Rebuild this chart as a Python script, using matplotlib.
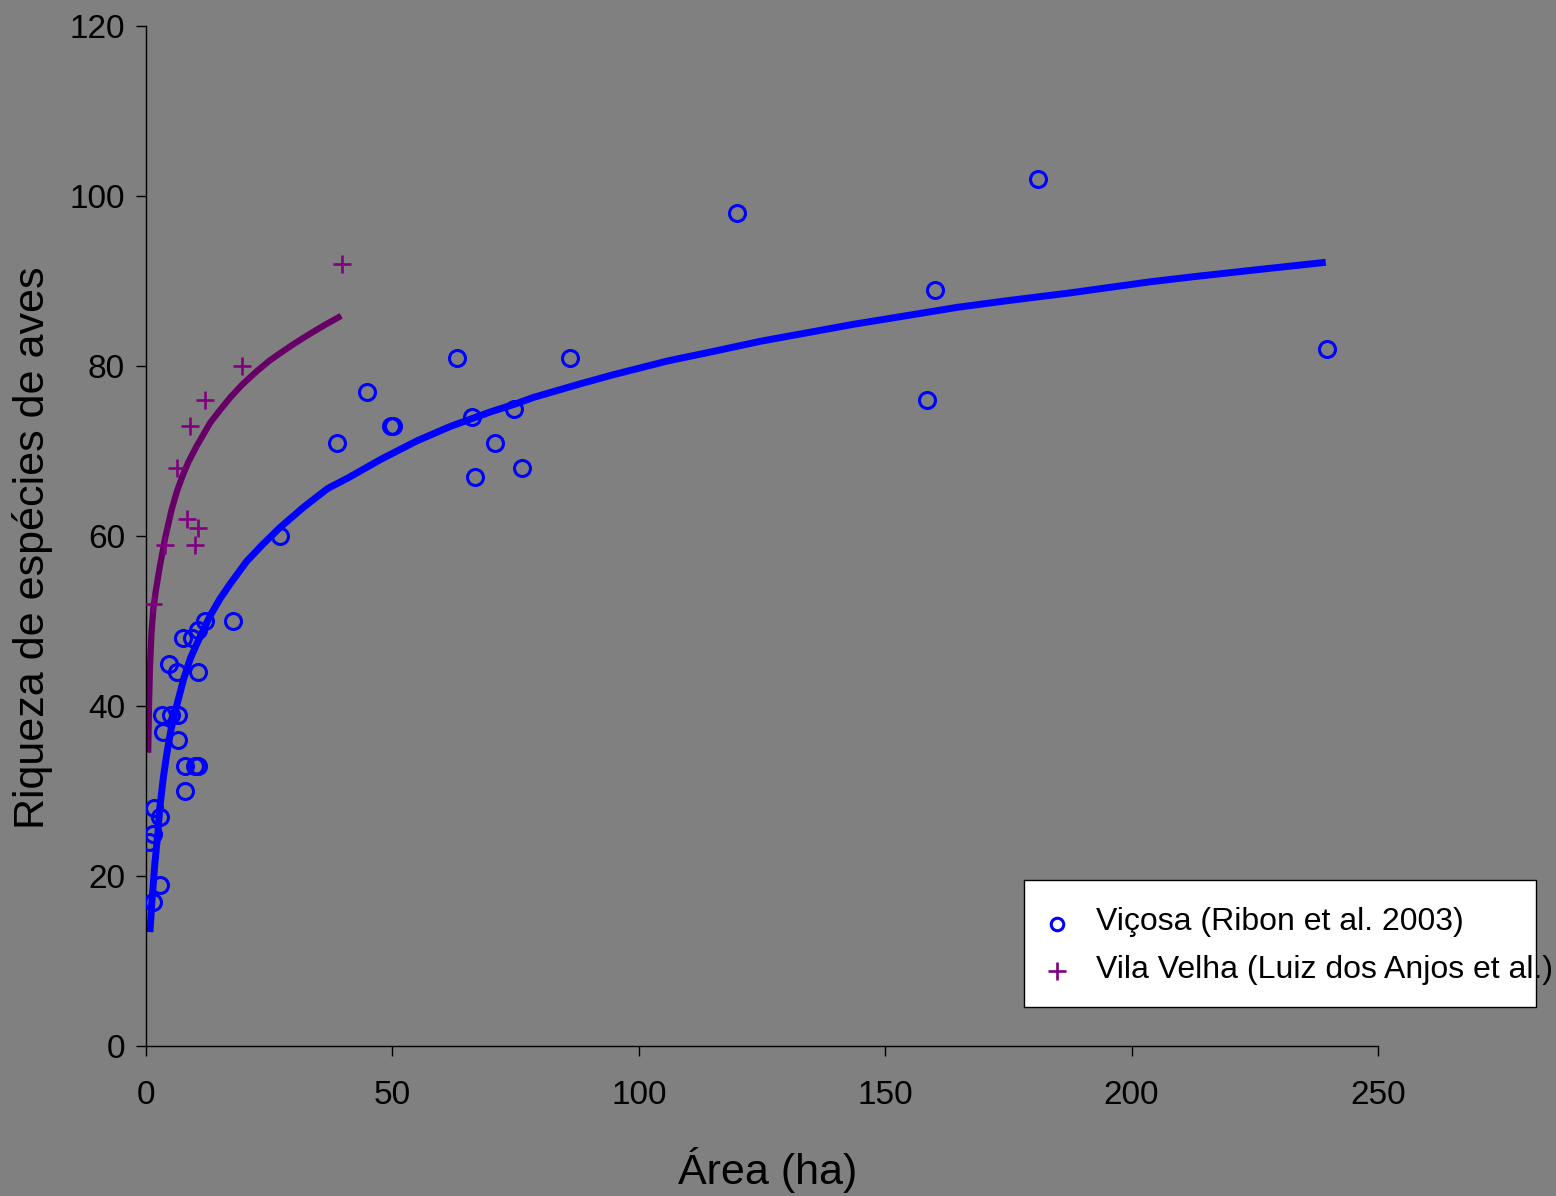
import matplotlib
matplotlib.use("Agg")
import matplotlib.pyplot as plt
from matplotlib.patches import Rectangle
from matplotlib.lines import Line2D

plt.rcParams['font.family'] = ['Liberation Sans', 'DejaVu Sans']

# Viçosa fragments (Ribon et al. 2003)
vicosa_area = [0.6, 1.4, 1.6, 2.8, 1.4, 2.8, 3.2, 3.4, 5.1, 6.5, 6.5, 4.7, 6.3,
               7.5, 9.3, 10.6, 12.0, 10.6, 7.9, 9.9, 10.6, 7.9, 17.7, 27.2,
               38.8, 44.9, 49.7, 50.1, 63.1, 66.2, 66.8, 70.8, 74.7, 76.3,
               86.0, 119.9, 158.5, 160.2, 181.0, 239.7]
vicosa_rich = [24, 25, 28, 27, 17, 19, 39, 37, 39, 39, 36, 45, 44,
               48, 48, 49, 50, 44, 33, 33, 33, 30, 50, 60,
               71, 77, 73, 73, 81, 74, 67, 71, 75, 68,
               81, 98, 76, 89, 102, 82]

# Vila Velha fragments (Luiz dos Anjos et al.)
vila_area = [39.8, 19.5, 12.0, 8.9, 6.3, 8.3, 10.6, 9.9, 3.9, 1.4]
vila_rich = [92, 80, 76, 73, 68, 62, 61, 59, 59, 52]

# Trend curves
vicosa_fit_x = [0.8, 1.2, 1.8, 2.4, 2.8, 3.5, 4.2, 5.0, 5.9, 7.6, 9.0, 10.3,
                13, 15, 17, 20.4, 23.5, 27.2, 32, 36.9, 40.9, 47.6, 55, 61.8,
                69.9, 75.3, 78.6, 88.1, 95, 105.9, 115, 124.6, 135, 143.5,
                152, 164.6, 175, 187.5, 203.7, 212.5, 225, 239.4]
vicosa_fit_y = [13.4, 17.0, 21.5, 25.0, 28.0, 31.5, 34.3, 37.0, 39.3, 43.1, 45.6,
                47.3, 50.6, 52.6, 54.3, 57.0, 58.9, 61.0, 63.4, 65.6, 66.8,
                69.0, 71.2, 72.9, 74.6, 75.6, 76.3, 77.9, 79.0, 80.6, 81.7,
                82.9, 84.0, 84.9, 85.7, 86.9, 87.7, 88.6, 89.9, 90.5, 91.3,
                92.2]
vila_fit_x = [0.45, 0.6, 0.8, 1.1, 1.5, 2.0, 2.8, 3.9, 5.2, 6.3, 7.5, 8.6,
              10.3, 11.5, 13, 15, 17.1, 19.5, 22.5, 25, 27.2, 30, 33.3, 36.5,
              39.6]
vila_fit_y = [34.5, 40.0, 44.5, 48.5, 51.5, 53.6, 56.4, 59.8, 63.1, 65.3, 67.2,
              68.7, 70.6, 71.8, 73.3, 74.8, 76.3, 77.8, 79.4, 80.6, 81.5, 82.6,
              83.8, 84.9, 85.9]

x_ticks = [0, 50, 100, 150, 200, 250]
y_ticks = [0, 20, 40, 60, 80, 100, 120]

GRAY = '#808080'
BLUE = '#0000FF'
PURPLE = '#800080'
DARK_PURPLE = '#660066'

fig = plt.figure(figsize=(15.56, 11.96), dpi=100, facecolor=GRAY)
ax = fig.add_axes([146 / 1556, 150 / 1196, (1378 - 146) / 1556, (1046 - 26) / 1196])
ax.set_facecolor(GRAY)

ax.plot(vicosa_fit_x, vicosa_fit_y, color=BLUE, lw=5, solid_capstyle='butt',
        solid_joinstyle='round', zorder=2)
ax.plot(vila_fit_x, vila_fit_y, color=DARK_PURPLE, lw=4.5, solid_capstyle='butt',
        solid_joinstyle='round', zorder=2)

ax.plot(vicosa_area, vicosa_rich, linestyle='none', marker='o', markersize=11.5,
        markerfacecolor='none', markeredgecolor=BLUE, markeredgewidth=2.2, zorder=3)
ax.plot(vila_area, vila_rich, linestyle='none', marker='+', markersize=13.5,
        markeredgecolor=PURPLE, markeredgewidth=1.9, zorder=3)

ax.set_xlim(0, 250)
ax.set_ylim(0, 120)
ax.set_xticks(x_ticks)
ax.set_yticks(y_ticks)
ax.set_xticklabels([str(t) for t in x_ticks])
ax.set_yticklabels([str(t) for t in y_ticks])
ax.tick_params(axis='both', direction='out', length=7.2, width=1, colors='black',
               labelsize=24)
ax.tick_params(axis='x', pad=17)
ax.tick_params(axis='y', pad=8)
for side in ('top', 'right'):
    ax.spines[side].set_visible(False)
for side in ('left', 'bottom'):
    ax.spines[side].set_color('black')
    ax.spines[side].set_linewidth(1)

fig.text(768 / 1556, 1 - 1170 / 1196, 'Área (ha)', fontsize=31,
         ha='center', va='center')
fig.text(33 / 1556, 1 - 548 / 1196, 'Riqueza de espécies de aves', fontsize=31,
         ha='center', va='center', rotation=90)

# Legend box
fig.add_artist(Rectangle((1024 / 1556, 1 - 1007 / 1196), (1536 - 1024) / 1556,
                         (1007 - 880) / 1196, transform=fig.transFigure,
                         facecolor='white', edgecolor='black', lw=1, zorder=5))
fig.add_artist(Line2D([1057 / 1556], [1 - 924 / 1196], transform=fig.transFigure,
                      marker='o', markersize=9, markerfacecolor='none',
                      markeredgecolor=BLUE, markeredgewidth=2.2, zorder=6))
fig.add_artist(Line2D([1057 / 1556], [1 - 971 / 1196], transform=fig.transFigure,
                      marker='+', markersize=12.5, markeredgecolor=PURPLE,
                      markeredgewidth=1.9, zorder=6))
fig.text(1096 / 1556, 1 - 922 / 1196, 'Viçosa (Ribon et al. 2003)', fontsize=23,
         ha='left', va='center', zorder=7)
fig.text(1096 / 1556, 1 - 970 / 1196, 'Vila Velha (Luiz dos Anjos et al.)',
         fontsize=23, ha='left', va='center', zorder=7)

fig.savefig('out.png', dpi=100, facecolor=GRAY)
